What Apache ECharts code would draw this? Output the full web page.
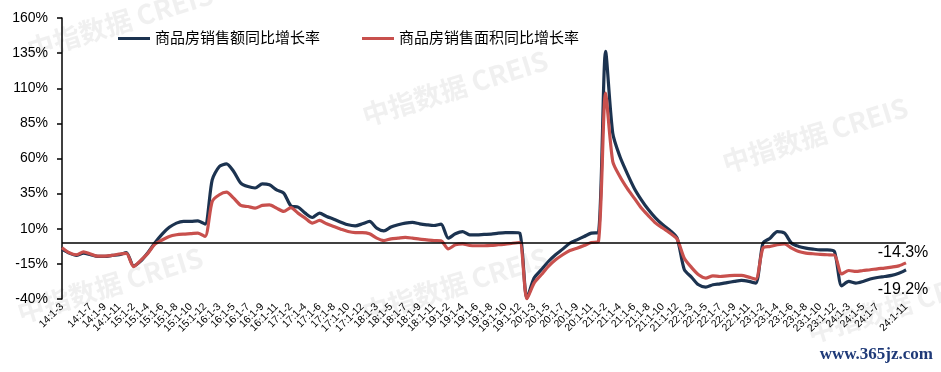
<!DOCTYPE html>
<html>
<head>
<meta charset="utf-8">
<script src="https://cdn.jsdelivr.net/npm/echarts@6/dist/echarts.min.js"></script>
<style>html,body{margin:0;padding:0;background:#fff}#c{width:941px;height:372px}</style>
</head>
<body>
<div id="c"></div>
<script>
// Categories: 14:1-3 ... 24:1-11 (monthly cumulative periods)
const years = ['14','15','16','17','18','19','20','21','22','23','24'];
const periodEnds = [2,3,4,5,6,7,8,9,10,11,12];
const categories = [];
years.forEach(y => periodEnds.forEach(m => {
  if (y === '14' && m === 2) return;
  if (y === '24' && m === 12) return;
  categories.push(y + ':1-' + m);
}));

const seriesNames = ['商品房销售额同比增长率', '商品房销售面积同比增长率'];

const salesAmount = [
  -4.5,-7.3,-9,-7.3,-8.5,-9.7,-9.7,-9,-8.5,-6.9,
  -16.4,-13,-7.1,0,6.2,11,14,15.2,15.2,15.6,13.3,
  44.8,54.3,56.2,50.8,42.5,40,39,42,41.3,37.7,35.4,
  26.3,25.4,21.1,18,21.1,18.7,16.8,14.7,12.8,12.1,13.5,
  15.2,10.5,8.5,11.2,12.8,14,14.5,13.5,12.8,12.3,13.3,
  3.3,6.4,8,5.7,5.7,6,6.2,6.9,7.3,7.3,6.9,
  -39.4,-25.1,-19.2,-13.3,-8.5,-4.5,-0.3,2.1,4.5,6.9,7.3,
  136.2,78,61.4,49.6,38.9,30.6,23.5,17.6,12.8,8.8,3.3,
  -19,-24.4,-29.9,-31.6,-29.9,-29.2,-28.3,-27.5,-26.8,-27.5,-28.7,
  -0.3,3.3,8,6.9,-0.3,-2.6,-3.8,-4.5,-5,-5,-6.2,
  -30.6,-27.5,-28.7,-27.5,-25.8,-24.7,-24,-23.2,-21.6,-19.2
];

const salesArea = [
  -3.5,-7,-8.5,-6.5,-8,-9.5,-9.5,-9,-8,-7.5,
  -17,-12.5,-7.5,-1,2,4.5,5.7,6.2,6.5,6.9,4.5,
  29.4,34.2,36,31.8,26.6,25.8,24.7,26.6,27,24.7,22.3,
  25.1,21.1,17.6,14,15.9,13.5,11.6,9.7,8,7.3,7.3,
  6.4,3.3,1.6,2.8,3.3,3.8,3.3,2.6,2.1,1.6,1.4,
  -4.3,-1.4,-0.7,-1.9,-2.1,-2.1,-1.9,-1.4,-1,-0.3,0.2,
  -39.9,-28.7,-22.8,-16.8,-12.1,-8.5,-5.5,-3.8,-1.9,0.2,0.9,
  106.5,57.9,47.2,38.9,31.8,24.7,19.2,14,10.5,6.9,2.6,
  -11,-17.5,-22.8,-25.1,-23.5,-24,-23.5,-23.2,-23.2,-24.4,-25.8,
  -3.8,-2.6,-1.4,-0.7,-3.8,-6.2,-7.3,-7.8,-8.3,-8.5,-8.8,
  -22.1,-19.7,-20.4,-19.7,-19.2,-18.5,-18,-17.3,-16.4,-14.3
];

const yTicks = { min: -40, max: 160, step: 25 };
const watermarkText = '中指数据 CREIS';
const siteMark = 'www.365jz.com';

const colors = ['#1C3350', '#C8504D'];
const font = 'Arial, "Liberation Sans", "Noto Sans CJK SC", sans-serif';

function endPoint(data, pos, dist) {
  const i = data.length - 1;
  return {
    silent: true,
    symbol: 'circle', symbolSize: 2,
    itemStyle: { color: 'rgba(0,0,0,0)', borderWidth: 0 },
    label: { show: true, position: pos, distance: dist, color: '#000', fontSize: 16, fontFamily: font, offset: [-3, 0] },
    data: [{ coord: [i, data[i]], value: data[i], label: { formatter: data[i].toFixed(1) + '%' } }]
  };
}

const wmPositions = [[120, 22], [455, 88], [815, 135], [110, 285], [455, 285], [900, 305]];
const graphics = wmPositions.map(p => ({
  type: 'text', x: p[0], y: p[1], rotation: 0.3, z: 0, silent: true,
  style: { text: watermarkText, fill: 'rgba(200,200,200,0.28)', font: 'bold 27px "Noto Sans CJK SC", sans-serif', align: 'center', verticalAlign: 'middle' }
}));
graphics.push({
  type: 'text', x: 933, y: 363, z: 100, silent: true,
  style: { text: siteMark, fill: '#1F3A78', font: 'bold 17px "Liberation Serif", "DejaVu Serif", serif', align: 'right', verticalAlign: 'bottom' }
});

const chart = echarts.init(document.getElementById('c'), null, { renderer: 'canvas' });
chart.setOption({
  animation: false,
  backgroundColor: '#fff',
  color: colors,
  graphic: graphics,
  legend: {
    data: seriesNames, left: 113, top: 26, icon: 'rect', itemWidth: 32, itemHeight: 3, itemGap: 42,
    textStyle: { fontSize: 15, color: '#000', fontFamily: font }
  },
  grid: { left: 62, right: 35, top: 18, bottom: 73, containLabel: false },
  xAxis: {
    type: 'category', data: categories, boundaryGap: false,
    axisLine: { show: false, onZero: false }, axisTick: { show: false },
    axisLabel: { interval: (idx) => idx % 2 === 0, showMinLabel: true, showMaxLabel: true, hideOverlap: false,
      rotate: 45, fontSize: 10.5, color: '#000', fontFamily: font, margin: 6 }
  },
  yAxis: {
    type: 'value', min: yTicks.min, max: yTicks.max, interval: yTicks.step,
    axisLine: { show: true, lineStyle: { color: '#000', width: 1.5 } },
    axisTick: { show: true, length: 5, lineStyle: { color: '#000', width: 1.5 } },
    axisLabel: { formatter: '{value}%', fontSize: 14, color: '#000', fontFamily: font, margin: 14 },
    splitLine: { show: false }
  },
  series: [
    {
      name: seriesNames[0], type: 'line', data: salesAmount, smooth: 0.25,
      showSymbol: false, symbol: 'none', lineStyle: { width: 3.2, color: colors[0] }, z: 3,
      markPoint: endPoint(salesAmount, 'bottom', 11),
      markLine: {
        silent: true, symbol: 'none', label: { show: false },
        lineStyle: { color: '#000', width: 1.5, type: 'solid' },
        data: [{ yAxis: 0 }]
      }
    },
    {
      name: seriesNames[1], type: 'line', data: salesArea, smooth: 0.25,
      showSymbol: false, symbol: 'none', lineStyle: { width: 3.2, color: colors[1] }, z: 4,
      markPoint: endPoint(salesArea, 'top', 1)
    }
  ]
});
</script>
</body>
</html>
